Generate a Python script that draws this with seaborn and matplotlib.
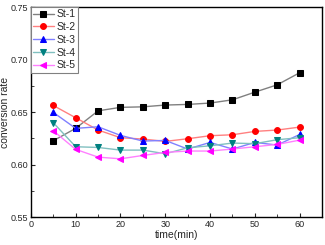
import matplotlib
matplotlib.use("Agg")
import matplotlib.pyplot as plt
import seaborn as sns
import pandas as pd
from matplotlib.ticker import MultipleLocator

time = [5, 10, 15, 20, 25, 30, 35, 40, 45, 50, 55, 60]
st1 = [0.6227, 0.6345, 0.6512, 0.6545, 0.6550, 0.6567, 0.6573, 0.6586, 0.6617, 0.6690, 0.6760, 0.6875]
st2 = [0.6563, 0.6446, 0.6329, 0.6256, 0.6243, 0.6221, 0.6246, 0.6275, 0.6284, 0.6316, 0.6329, 0.6357]
st3 = [0.6497, 0.6345, 0.6360, 0.6278, 0.6224, 0.6230, 0.6148, 0.6211, 0.6148, 0.6211, 0.6186, 0.6287]
st4 = [0.6399, 0.6170, 0.6163, 0.6138, 0.6138, 0.6103, 0.6160, 0.6179, 0.6205, 0.6199, 0.6237, 0.6256]
st5 = [0.6322, 0.6145, 0.6071, 0.6055, 0.6087, 0.6116, 0.6129, 0.6129, 0.6148, 0.6170, 0.6192, 0.6233]
names = ["St-1", "St-2", "St-3", "St-4", "St-5"]

sns.set_style("ticks")
plt.rcParams['font.family'] = ['Liberation Sans', 'DejaVu Sans']

fig = plt.figure(figsize=(3.25, 2.45), dpi=100)
ax = fig.add_axes([0.095, 0.114, 0.896, 0.857])

series = [st1, st2, st3, st4, st5]
marker_colors = ["#000000", "#ff0000", "#0000ff", "#008080", "#ff00ff"]
line_colors = ["#808080", "#ff8080", "#8080ff", "#80c0c0", "#ff80ff"]
markers = ["s", "o", "^", "v", "<"]

for name, vals, mc, lc, mk in zip(names, series, marker_colors, line_colors, markers):
    df = pd.DataFrame({"time": time, "rate": vals})
    sns.lineplot(data=df, x="time", y="rate", ax=ax, color=lc, linewidth=1.0,
                 marker=mk, markersize=4.2, markerfacecolor=mc, markeredgecolor=mc,
                 label=name)

ax.set_xlim(0, 65)
ax.set_ylim(0.55, 0.75)
ax.xaxis.set_major_locator(MultipleLocator(10))
ax.xaxis.set_minor_locator(MultipleLocator(5))
ax.yaxis.set_major_locator(MultipleLocator(0.05))
ax.yaxis.set_minor_locator(MultipleLocator(0.025))
ax.set_yticklabels([f"{v:.2f}" for v in ax.get_yticks()])
ax.tick_params(which="major", direction="in", length=3, width=0.8, labelsize=6.5, pad=2,
               top=False, right=False)
ax.tick_params(which="minor", direction="in", length=2, width=0.6, top=False, right=False)
for s in ax.spines.values():
    s.set_visible(True)
    s.set_linewidth(1.0)
    s.set_color("black")

ax.set_xlabel("time(min)", fontsize=7.5, labelpad=1)
ax.set_ylabel("conversion rate", fontsize=7.5)
ax.yaxis.set_label_coords(-0.07, 0.5)

leg = ax.legend(loc="upper left", fontsize=7.5, frameon=True, fancybox=False,
                borderaxespad=0.0, handlelength=2.0, handletextpad=0.3,
                labelspacing=0.27, borderpad=0.2, markerscale=1.0)
leg.get_frame().set_edgecolor("#808080")
leg.get_frame().set_linewidth(0.8)
leg.get_frame().set_alpha(1)

fig.savefig("out.png", dpi=100)
